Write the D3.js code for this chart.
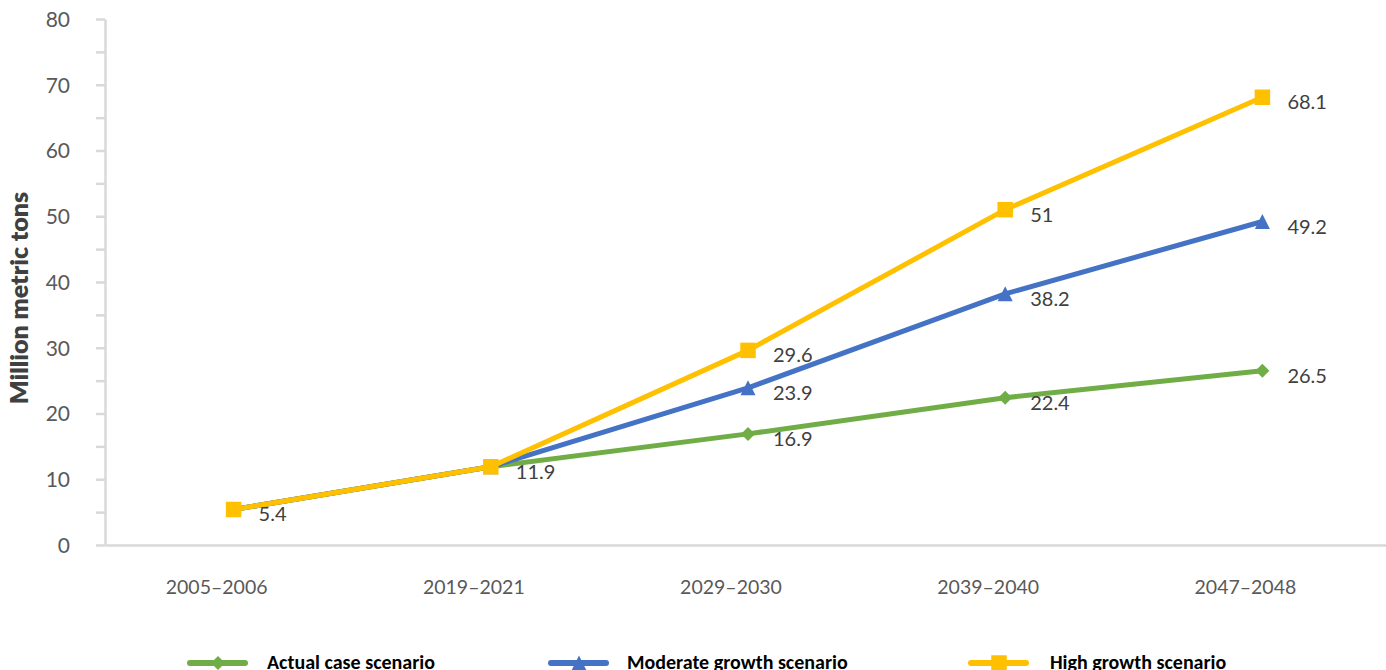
<!DOCTYPE html>
<html>
<head>
<meta charset="utf-8">
<script src="https://cdn.jsdelivr.net/npm/d3@7"></script>
<style>
  html, body { margin: 0; padding: 0; background: #fff; }
  svg { display: block; }
</style>
</head>
<body>
<svg id="chart" width="1386" height="670"></svg>
<script>
// Period categories on the x axis
const periods = ["2005–2006", "2019–2021", "2029–2030", "2039–2040", "2047–2048"];

// Million metric tons per scenario
const actualCase = [5.4, 11.9, 16.9, 22.4, 26.5];
const moderateGrowth = [5.4, 11.9, 23.9, 38.2, 49.2];
const highGrowth = [5.4, 11.9, 29.6, 51, 68.1];

// Y axis ticks
const yTicks = [0, 10, 20, 30, 40, 50, 60, 70, 80];
const yMinorTicks = [5, 15, 25, 35, 45, 55, 65, 75];

const seriesNames = ["Actual case scenario", "Moderate growth scenario", "High growth scenario"];

// Marker shapes centred on their bounding box
const boxTriangle = {
  draw(ctx, size) {
    const s = Math.sqrt(size) / 2;
    ctx.moveTo(0, -s);
    ctx.lineTo(s, s);
    ctx.lineTo(-s, s);
    ctx.closePath();
  }
};
const boxDiamond = {
  draw(ctx, size) {
    const s = Math.sqrt(size) / 2;
    ctx.moveTo(0, -s);
    ctx.lineTo(s, 0);
    ctx.lineTo(0, s);
    ctx.lineTo(-s, 0);
    ctx.closePath();
  }
};

const series = [
  { name: seriesNames[0], values: actualCase, color: "#70ad47", symbol: boxDiamond, size: 196, labelFrom: 2 },
  { name: seriesNames[1], values: moderateGrowth, color: "#4472c4", symbol: boxTriangle, size: 225, labelFrom: 2 },
  { name: seriesNames[2], values: highGrowth, color: "#ffc000", symbol: d3.symbolSquare, size: 240, labelFrom: 0 }
];

const svg = d3.select("#chart");
const plot = { left: 105, right: 1391, top: 19, bottom: 545 };

const x = d3.scaleBand().domain(periods).range([plot.left, plot.right]);
const xc = d => x(d) + x.bandwidth() / 2;
const y = d3.scaleLinear().domain([0, 80]).range([plot.bottom, plot.top]);

const axisColor = "#d9d9d9";
const textColor = "#595959";
const font = "Lato, 'Open Sans', sans-serif";

// Y axis with major and minor ticks
const yAxis = svg.append("g").attr("transform", `translate(${plot.left},0)`)
  .call(d3.axisLeft(y).tickValues(yTicks).tickSize(9).tickPadding(26).tickSizeOuter(0));
yAxis.select(".domain").attr("stroke", axisColor).attr("stroke-width", 2.5);
yAxis.selectAll(".tick line").attr("stroke", axisColor).attr("stroke-width", 2.5);
yAxis.selectAll(".tick text").attr("fill", textColor).attr("font-size", 21)
  .attr("font-family", font).attr("dy", "0.35em");

svg.append("g").attr("transform", `translate(${plot.left},0)`)
  .call(d3.axisLeft(y).tickValues(yMinorTicks).tickSize(9).tickFormat(""))
  .call(g => g.select(".domain").remove())
  .selectAll(".tick line").attr("stroke", axisColor).attr("stroke-width", 2.5);

// X axis (labels sit slightly left of the category centres)
const xAxis = svg.append("g").attr("transform", `translate(0,${plot.bottom})`)
  .call(d3.axisBottom(x).tickSize(0).tickPadding(35));
xAxis.select(".domain").attr("stroke", axisColor).attr("stroke-width", 2.5);
xAxis.selectAll(".tick text").attr("fill", textColor).attr("font-size", 19.5)
  .attr("font-family", font).attr("dx", -17);

// Y axis title
svg.append("text")
  .attr("transform", "translate(28,298) rotate(-90)")
  .attr("text-anchor", "middle")
  .attr("fill", "#404040")
  .attr("font-family", font)
  .attr("font-weight", 800)
  .attr("font-size", 25)
  .text("Million metric tons");

// Lines
const line = d3.line().x((d, i) => xc(periods[i])).y(d => y(d));
series.forEach(s => {
  svg.append("path")
    .datum(s.values)
    .attr("fill", "none")
    .attr("stroke", s.color)
    .attr("stroke-width", 5)
    .attr("stroke-linejoin", "round")
    .attr("d", line);
});

// Markers
series.forEach(s => {
  svg.append("g").selectAll("path")
    .data(s.values)
    .join("path")
    .attr("transform", (d, i) => `translate(${xc(periods[i])},${y(d)})`)
    .attr("d", d3.symbol().type(s.symbol).size(s.size))
    .attr("fill", s.color);
});

// Data labels
series.forEach(s => {
  svg.append("g").selectAll("text")
    .data(s.values.map((v, i) => ({ v, i })).filter(d => d.i >= s.labelFrom))
    .join("text")
    .attr("x", d => xc(periods[d.i]) + 25)
    .attr("y", d => y(d.v) + 5)
    .attr("dy", "0.35em")
    .attr("fill", "#404040")
    .attr("font-family", font)
    .attr("font-size", 20)
    .text(d => d.v);
});

// Legend
const legendItems = [
  { s: series[0], x: 190, tx: 267 },
  { s: series[1], x: 551, tx: 627 },
  { s: series[2], x: 971, tx: 1050 }
];
const ly = 663;
legendItems.forEach(it => {
  const g = svg.append("g");
  g.append("line")
    .attr("x1", it.x).attr("x2", it.x + 55)
    .attr("y1", ly).attr("y2", ly)
    .attr("stroke", it.s.color).attr("stroke-width", 6).attr("stroke-linecap", "round");
  g.append("path")
    .attr("transform", `translate(${it.x + 28},${ly})`)
    .attr("d", d3.symbol().type(it.s.symbol).size(it.s.size))
    .attr("fill", it.s.color);
  g.append("text")
    .attr("x", it.tx).attr("y", 669)
    .attr("fill", "#000")
    .attr("font-family", "Carlito, Lato, 'Open Sans', sans-serif")
    .attr("font-weight", 700)
    .attr("font-size", 20)
    .text(it.s.name);
});
</script>
</body>
</html>
